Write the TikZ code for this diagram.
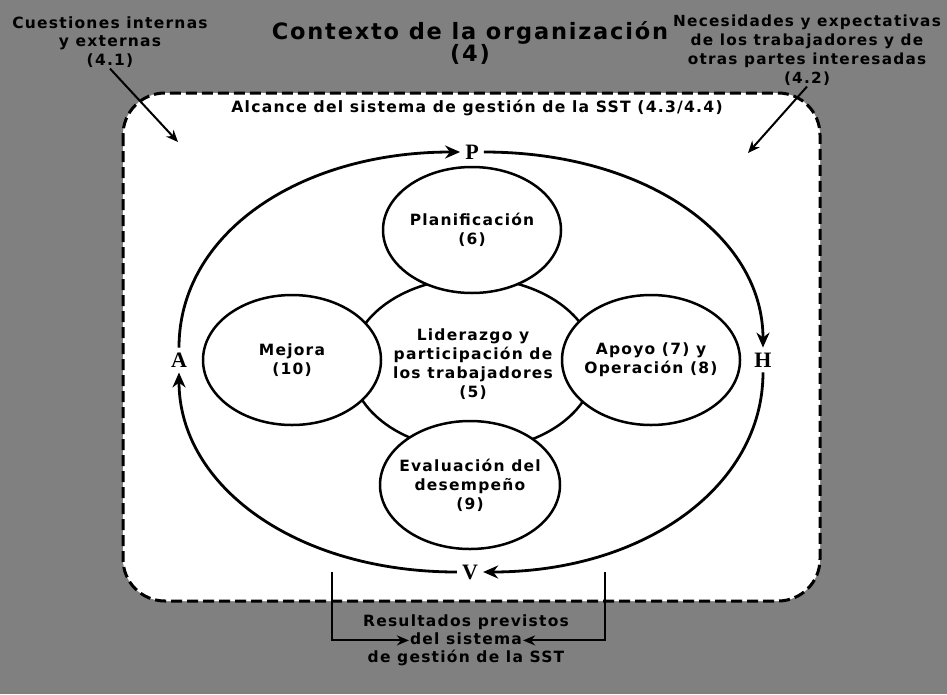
\documentclass[tikz,border=0pt]{standalone}
\usepackage{fontspec}
\setmainfont{DejaVu Sans}[LetterSpace=8]
\newfontfamily\cyclefont{Liberation Serif}
\usetikzlibrary{arrows.meta,positioning,shapes.geometric}
\definecolor{noisegray}{gray}{0.5}
\begin{document}
\begin{tikzpicture}[x=1pt,y=-1pt]
		\tikzset{phase/.style = {shape=ellipse,draw,line width=2.5pt,fill=white,inner xsep=-12pt,inner ysep=0pt,align=center,font=\bfseries\fontsize{15.5}{19}\selectfont}}
		\tikzset{ctx/.style = {align=center,inner sep=1pt,font=\bfseries\fontsize{15.5}{18.5}\selectfont}}
		\tikzset{resline/.style = {inner sep=1pt,text height=12pt,text depth=4pt,font=\bfseries\fontsize{15.5}{18}\selectfont}}
		\tikzset{stage/.style = {inner sep=5pt,font=\cyclefont\bfseries\fontsize{22}{22}\selectfont}}
		\tikzset{cycle/.style = {-{Stealth[length=15pt,width=13pt]},line width=2.8pt}}
		\tikzset{feed/.style = {-{Stealth[length=12pt,width=10pt]},line width=2pt}}
		\useasboundingbox[fill=noisegray] (0,0) rectangle (947,694);
		\draw[fill=white,line width=3pt,dash pattern=on 11pt off 5pt,rounded corners=42pt] (123,93) rectangle (820,601);
		\node[ctx] (cuest) at (110,42) {Cuestiones internas\\y externas\\(4.1)};
		\node[ctx,font=\bfseries\fontsize{22.5}{17}\selectfont] (contexto) at (470,43) {Contexto de la organización\\(4)};
		\node[ctx,font=\bfseries\fontsize{15.3}{19}\selectfont] (neces) at (807,50) {Necesidades y expectativas\\de los trabajadores y de\\otras partes interesadas\\(4.2)};
		\node[ctx,font=\bfseries\fontsize{15.6}{18}\selectfont] (alcance) at (477,108) {Alcance del sistema de gestión de la SST (4.3/4.4)};
		\coordinate (inL) at (178,142);
		\coordinate (inR) at (748,153);
		\draw[feed] (cuest.south) -- (inL);
		\draw[feed] (neces.south) -- (inR);
		\node[phase,minimum width=244pt,minimum height=172pt] (lider) at (473,364) {Liderazgo y\\participación de\\los trabajadores\\(5)};
		\node[phase,minimum width=178pt,minimum height=126pt] (plan) at (472,230) {Planificación\\(6)};
		\node[phase,minimum width=178pt,minimum height=130pt] (mejora) at (292,360) {Mejora\\(10)};
		\node[phase,minimum width=178pt,minimum height=130pt] (apoyo) at (651,360) {Apoyo (7) y\\Operación (8)};
		\node[phase,minimum width=180pt,minimum height=128pt] (evalua) at (470,485) {Evaluación del\\desempeño\\(9)};
		\node[stage] (P) at (472,152) {P};
		\node[stage] (H) at (763,360) {H};
		\node[stage] (V) at (470,572) {V};
		\node[stage] (A) at (179,360) {A};
		\path[cycle,draw] (A) to[out=90,in=180,out looseness=0.85,in looseness=1.2] (P);
		\path[cycle,draw] (P) to[out=0,in=90,out looseness=1.2,in looseness=0.85] (H);
		\path[cycle,draw] (H) to[out=-90,in=0,out looseness=0.85,in looseness=1.2] (V);
		\path[cycle,draw] (V) to[out=180,in=-90,out looseness=1.2,in looseness=0.85] (A);
		\node[resline] (res1) at (466,622) {Resultados previstos};
		\node[resline] (res2) [below=0pt of res1] {del sistema};
		\node[resline] (res3) [below=0pt of res2] {de gestión de la SST};
		\coordinate (outL) at (332,572);
		\coordinate (outR) at (605,572);
		\draw[feed] (outL) |- (res2.west);
		\draw[feed] (outR) |- (res2.east);
	\end{tikzpicture}
\end{document}
